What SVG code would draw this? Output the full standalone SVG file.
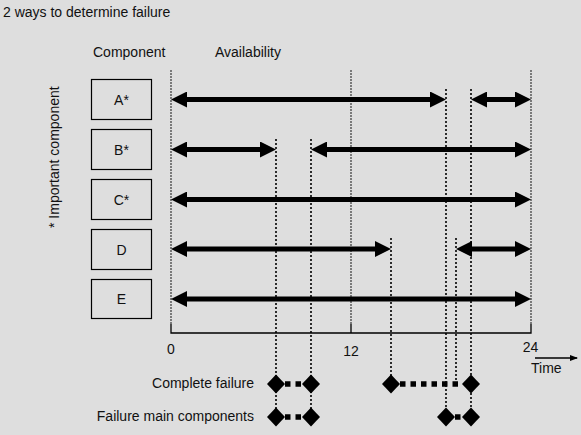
<svg xmlns="http://www.w3.org/2000/svg" width="581" height="435" viewBox="0 0 581 435">
<style>
text{font-family:"Liberation Sans",Arial,sans-serif;font-size:14px;fill:#111}
.box{fill:#dedede;stroke:#000;stroke-width:1.2}
.lbl{text-anchor:middle}
.grid{stroke:#444;stroke-width:1.3;stroke-dasharray:2 1}
.fail{stroke:#000;stroke-width:1.6;stroke-dasharray:2 2}
.arr{stroke:#000;stroke-width:5;fill:none;marker-start:url(#ah);marker-end:url(#ah)}
.link{stroke:#000;stroke-width:5.5;stroke-dasharray:5.5 5}
</style>
<defs>
<marker id="ah" markerUnits="userSpaceOnUse" markerWidth="17" markerHeight="16" refX="1" refY="8" orient="auto-start-reverse" viewBox="0 0 17 16">
<path d="M0,0 L16,8 L0,16 z" fill="#000"/>
</marker>
<marker id="ta" markerUnits="userSpaceOnUse" markerWidth="8" markerHeight="8" refX="7" refY="4" orient="auto" viewBox="0 0 8 8">
<path d="M0,1 L8,4 L0,7 z" fill="#000"/>
</marker>
<path id="dm" d="M0,-9.5 L9,0 L0,9.5 L-9,0 z" fill="#000"/>
</defs>
<rect width="581" height="435" fill="#dedede"/>
<text x="3" y="17">2 ways to determine failure</text>
<text x="93" y="57">Component</text>
<text x="215" y="57">Availability</text>
<text transform="translate(59,228) rotate(-90)">* Important component</text>

<g id="gridlines">
<line class="grid" x1="171" y1="70" x2="171" y2="324"/>
<line class="grid" x1="351" y1="70" x2="351" y2="324"/>
<line class="grid" x1="531" y1="70" x2="531" y2="324"/>
<path d="M171,324 V333 H531 V324 M351,324 V333" fill="none" stroke="#000" stroke-width="1.3"/>
<text x="171" y="354" class="lbl">0</text>
<text x="351" y="356" class="lbl">12</text>
<text x="530.5" y="352" class="lbl">24</text>
<line x1="535" y1="358" x2="577" y2="358" stroke="#000" stroke-width="1.5" marker-end="url(#ta)"/>
<text x="531" y="373">Time</text>
</g>

<g id="nodeA"><rect class="box" x="91.5" y="79.5" width="60" height="40"/><text class="lbl" x="121.5" y="104.5">A*</text></g>
<g id="nodeB"><rect class="box" x="91.5" y="129.5" width="60" height="40"/><text class="lbl" x="121.5" y="154.5">B*</text></g>
<g id="nodeC"><rect class="box" x="91.5" y="179.5" width="60" height="40"/><text class="lbl" x="121.5" y="204.5">C*</text></g>
<g id="nodeD"><rect class="box" x="91.5" y="229.5" width="60" height="40"/><text class="lbl" x="121.5" y="254.5">D</text></g>
<g id="nodeE"><rect class="box" x="91.5" y="279.5" width="60" height="39"/><text class="lbl" x="121.5" y="304">E</text></g>

<g id="failure-lines">
<line class="fail" x1="276" y1="139" x2="276" y2="417"/>
<line class="fail" x1="311" y1="139" x2="311" y2="417"/>
<line class="fail" x1="391" y1="238" x2="391" y2="384"/>
<line class="fail" x1="456" y1="238" x2="456" y2="384"/>
<line class="fail" x1="446" y1="89" x2="446" y2="417"/>
<line class="fail" x1="471" y1="89" x2="471" y2="417"/>
</g>

<g id="connectors">
<line class="arr" x1="186" y1="99.5" x2="431" y2="99.5"/>
<line class="arr" x1="486" y1="99.5" x2="516" y2="99.5"/>
<line class="arr" x1="186" y1="149.5" x2="261" y2="149.5"/>
<line class="arr" x1="326" y1="149.5" x2="516" y2="149.5"/>
<line class="arr" x1="186" y1="199.5" x2="516" y2="199.5"/>
<line class="arr" x1="186" y1="249" x2="376" y2="249"/>
<line class="arr" x1="471" y1="249" x2="516" y2="249"/>
<line class="arr" x1="186" y1="299" x2="516" y2="299"/>
</g>

<g id="complete-failure">
<text x="254" y="388" text-anchor="end">Complete failure</text>
<line class="link" x1="285" y1="384" x2="303" y2="384"/>
<line class="link" x1="400" y1="384" x2="463" y2="384"/>
<use href="#dm" x="276" y="384"/>
<use href="#dm" x="311" y="384"/>
<use href="#dm" x="391" y="384"/>
<use href="#dm" x="471" y="384"/>
</g>

<g id="main-failure">
<text x="254" y="421" text-anchor="end">Failure main components</text>
<line class="link" x1="285" y1="417" x2="303" y2="417"/>
<line class="link" x1="455" y1="417" x2="463" y2="417"/>
<use href="#dm" x="276" y="417"/>
<use href="#dm" x="311" y="417"/>
<use href="#dm" x="446" y="417"/>
<use href="#dm" x="471" y="417"/>
</g>
</svg>
